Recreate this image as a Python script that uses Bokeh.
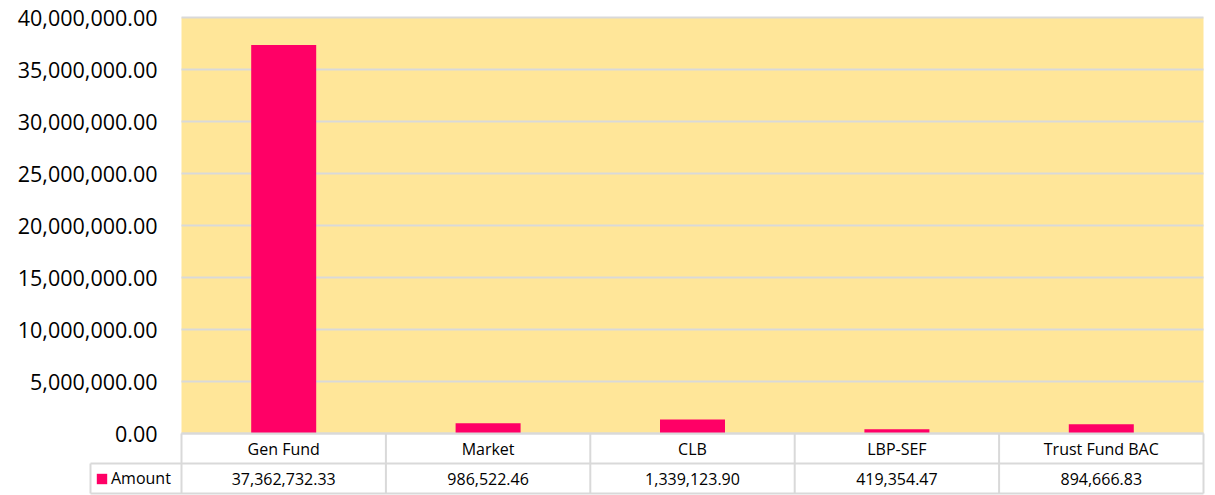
from bokeh.plotting import figure
from bokeh.models import (Range1d, FixedTicker, NumeralTickFormatter,
                          Legend, LegendItem, ColumnDataSource)
from bokeh.core.properties import value
from bokeh.embed import file_html
from bokeh.resources import INLINE

# ---- data ----
categories = ["Gen Fund", "Market", "CLB", "LBP-SEF", "Trust Fund BAC"]
amounts = [37362732.33, 986522.46, 1339123.90, 419354.47, 894666.83]
series_name = "Amount"
y_ticks = [0, 5000000, 10000000, 15000000, 20000000, 25000000, 30000000, 35000000, 40000000]

# ---- layout (page pixels) ----
W, H = 1215, 495
F_LEFT, F_RIGHT, F_TOP = 88, 1205, 14      # frame edges on the page
X0, UNIT = 181.0, 204.4                    # page x of category start, px per category
Y0, Y_TOP = 433.0, 17.0                    # page y of value 0 and of top tick
y_max = y_ticks[-1]
per_px = y_max / (Y0 - Y_TOP)


def dx(px):
    return (px - X0) / UNIT


def dy(py):
    return (Y0 - py) * per_px


GRID = "#D9D9D9"
BAR = "#FF0066"
BG = "#FFE699"
FONT = "Open Sans"
n = len(categories)

p = figure(width=W, height=H,
           x_range=Range1d(dx(F_LEFT), dx(F_RIGHT)),
           y_range=Range1d(dy(H), dy(F_TOP)),
           output_backend="svg", toolbar_location=None,
           min_border_top=F_TOP, min_border_left=F_LEFT,
           min_border_right=W - F_RIGHT, min_border_bottom=0)
p.background_fill_color = "white"
p.border_fill_color = "white"
p.outline_line_color = None
p.xaxis.visible = False
p.xgrid.visible = False
p.ygrid.visible = False

yax = p.yaxis[0]
yax.ticker = FixedTicker(ticks=y_ticks)
yax.formatter = NumeralTickFormatter(format="0,0.00")
yax.axis_line_color = None
yax.major_tick_line_color = None
yax.minor_tick_line_color = None
yax.major_tick_out = 0
yax.major_tick_in = 0
yax.major_label_standoff = -(157 - F_LEFT)
yax.major_label_text_font = FONT
yax.major_label_text_font_size = "21.5px"
yax.major_label_text_color = "#000000"

# plot area background and gridlines
p.quad(left=[0], right=[n], bottom=[0], top=[y_max], fill_color=BG, line_color=None)
p.segment(x0=[0] * len(y_ticks), x1=[n] * len(y_ticks), y0=y_ticks, y1=y_ticks,
          line_color=GRID, line_width=2)

xs = [i + 0.5 for i in range(n)]
src = ColumnDataSource(dict(x=xs, cat=categories, amt=amounts,
                            lbl=[f"{v:,.2f}" for v in amounts],
                            y1=[dy(448)] * n, y2=[dy(478)] * n))
bars = p.vbar(x="x", top="amt", bottom=0, width=65 / UNIT, source=src,
              fill_color=BAR, line_color=None)

# data table grid
r1, r2 = dy(463), dy(493)
cell_left = dx(90)
p.segment(x0=[0, cell_left, cell_left], x1=[n, n, n], y0=[0, r1, r2], y1=[0, r1, r2],
          line_color=GRID, line_width=2)
vx = list(range(n + 1))
p.segment(x0=vx, x1=vx, y0=[0] * (n + 1), y1=[r2] * (n + 1), line_color=GRID, line_width=2)
p.segment(x0=[cell_left], x1=[cell_left], y0=[r1], y1=[r2], line_color=GRID, line_width=2)

p.text(x="x", y="y1", text="cat", source=src, text_align="center", text_baseline="middle",
       text_font=value(FONT), text_font_size="16px", text_color="#000000")
p.text(x="x", y="y2", text="lbl", source=src, text_align="center", text_baseline="middle",
       text_font=value(FONT), text_font_size="16px", text_color="#000000")

legend = Legend(items=[LegendItem(label=series_name, renderers=[bars])],
                location=(95 - F_LEFT, 6), orientation="vertical", padding=0, margin=0,
                glyph_width=13, glyph_height=13, label_standoff=3, label_height=16,
                label_text_font=FONT, label_text_font_size="16px", label_text_color="#000000",
                border_line_color=None, background_fill_alpha=0)
p.add_layout(legend)

open("out.html", "w").write(file_html(p, INLINE))
